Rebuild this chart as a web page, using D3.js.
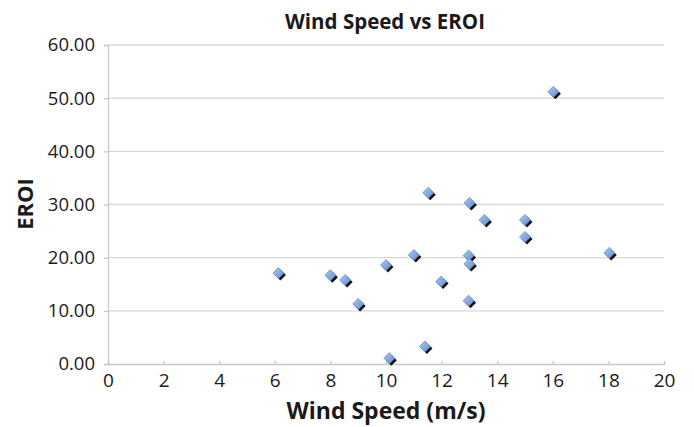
<!DOCTYPE html>
<html>
<head>
<meta charset="utf-8">
<script src="https://cdn.jsdelivr.net/npm/d3@7"></script>
<style>
  body { margin: 0; background: #fff; }
  text { font-family: "Open Sans", sans-serif; fill: #1a1a1a; }
</style>
</head>
<body>
<div id="chart"></div>
<script>
// wind speed (m/s) and EROI
const windSpeed = [6.13, 8.0, 8.53, 9.0, 10.0, 10.12, 11.0, 11.4, 11.52, 11.98, 12.97, 13.0, 12.97, 13.0, 13.54, 15.0, 15.0, 16.02, 18.03];
const eroi      = [17.1, 16.7, 15.8, 11.3, 18.6, 1.1, 20.5, 3.3, 32.2, 15.5, 20.4, 18.8, 11.9, 30.3, 27.1, 27.1, 23.9, 51.2, 20.9];
const xTicks = [0, 2, 4, 6, 8, 10, 12, 14, 16, 18, 20];
const yTicks = [0, 10, 20, 30, 40, 50, 60];

const width = 694, height = 427;
const margin = {top: 45, right: 30, bottom: 63, left: 108};

const svg = d3.select("#chart")
    .append("svg")
    .attr("width", width)
    .attr("height", height);

const x = d3.scaleLinear().domain([0, 20]).range([margin.left, width - margin.right]);
const y = d3.scaleLinear().domain([0, 60]).range([height - margin.bottom, margin.top]);

// marker gradient
const defs = svg.append("defs");
const grad = defs.append("linearGradient")
    .attr("id", "mk").attr("x1", 0).attr("y1", 0).attr("x2", 1).attr("y2", 1);
grad.append("stop").attr("offset", "0%").attr("stop-color", "#a9c8ef");
grad.append("stop").attr("offset", "100%").attr("stop-color", "#5f8fd6");

// gridlines
svg.append("g")
    .selectAll("line")
    .data(yTicks.filter(d => d > 0))
    .enter()
    .append("line")
    .attr("x1", x(0)).attr("x2", x(20))
    .attr("y1", d => y(d)).attr("y2", d => y(d))
    .style("stroke", "#d9d9d9")
    .style("stroke-width", 1.3);

// y axis
const yAxis = svg.append("g")
    .attr("transform", "translate(" + x(0) + ",0)")
    .call(d3.axisLeft(y).tickValues(yTicks).tickSize(4).tickPadding(9).tickFormat(d3.format(".2f")));
yAxis.select(".domain").style("stroke", "#c8c8c8").style("stroke-width", 1.3);
yAxis.selectAll(".tick line").style("stroke", "#c8c8c8").style("stroke-width", 1.3);
yAxis.selectAll("text").style("font-size", "18.5px").style("fill", "#1a1a1a");

// x axis
const xAxis = svg.append("g")
    .attr("transform", "translate(0," + y(0) + ")")
    .call(d3.axisBottom(x).tickValues(xTicks).tickSize(-3).tickPadding(10));
xAxis.select(".domain").style("stroke", "#c8c8c8").style("stroke-width", 1.3);
xAxis.selectAll(".tick line").style("stroke", "#c8c8c8").style("stroke-width", 1.3);
xAxis.selectAll("text").style("font-size", "19px").style("fill", "#1a1a1a");

// points
const points = windSpeed.map((w, i) => ({x: w, y: eroi[i]}));
const diamond = "M0,-5.5L5.5,0L0,5.5L-5.5,0Z";

svg.selectAll(".shadow")
    .data(points)
    .enter()
    .append("path")
    .attr("d", diamond)
    .attr("transform", d => "translate(" + (x(d.x) + 2) + "," + (y(d.y) + 2) + ")")
    .style("fill", "#111");

svg.selectAll(".point")
    .data(points)
    .enter()
    .append("path")
    .attr("d", diamond)
    .attr("transform", d => "translate(" + x(d.x) + "," + y(d.y) + ")")
    .style("fill", "url(#mk)")
    .style("stroke", "#6f8fc0")
    .style("stroke-width", 0.8);

// titles
svg.append("text")
    .attr("x", 385).attr("y", 29)
    .attr("text-anchor", "middle")
    .style("font-size", "20.5px").style("font-weight", "bold")
    .text("Wind Speed vs EROI");

svg.append("text")
    .attr("x", 386).attr("y", 419)
    .attr("text-anchor", "middle")
    .style("font-size", "23px").style("font-weight", "bold")
    .text("Wind Speed (m/s)");

svg.append("text")
    .attr("transform", "translate(33,204) rotate(-90)")
    .attr("text-anchor", "middle")
    .style("font-size", "22px").style("font-weight", "bold")
    .text("EROI");
</script>
</body>
</html>
